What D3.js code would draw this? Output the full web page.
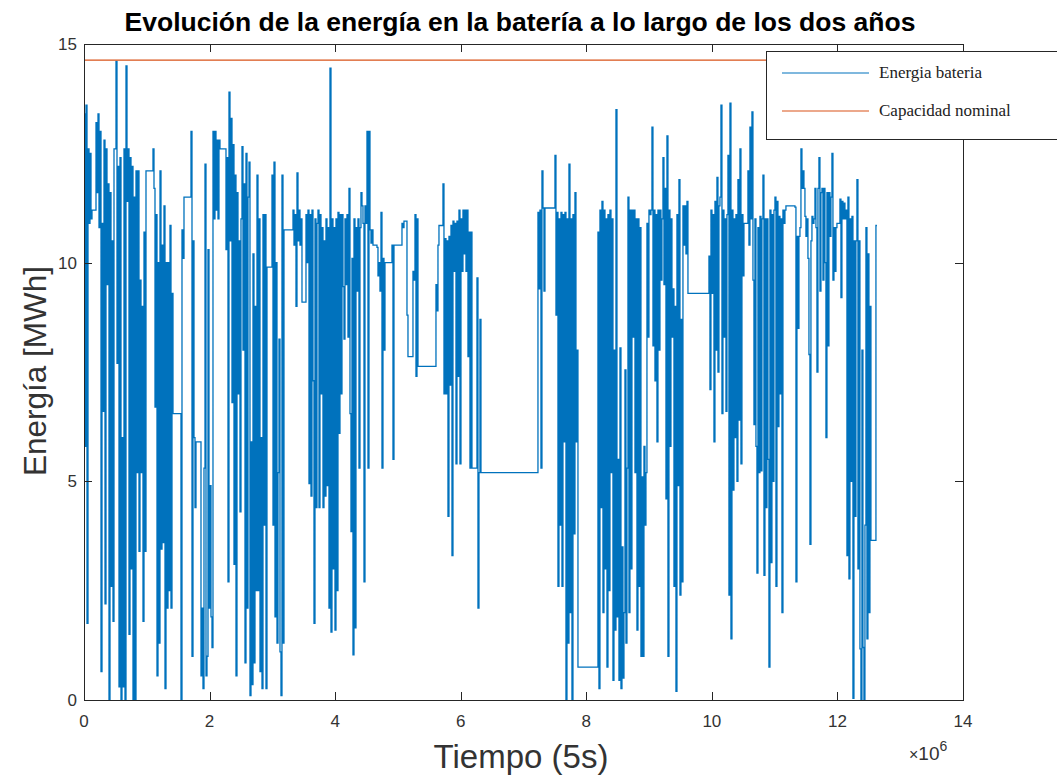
<!DOCTYPE html>
<html>
<head>
<meta charset="utf-8">
<script src="https://cdn.jsdelivr.net/npm/d3@7/dist/d3.min.js"></script>
<style>
  body { margin: 0; background: #fff; }
  svg { display: block; }
</style>
</head>
<body>
<svg id="chart" width="1057" height="776"></svg>
<script>
// Energía almacenada (MWh), una muestra cada pasoMuestreo intervalos de 5 s
const energiaBateria = [
  13.4,5.8,13.6,1.75,12.6,10.9,12.5,11.0,11.2,11.2,
  11.2,11.2,13.2,11.6,13.4,10.8,13.0,0.65,10.9,6.6,
  12.8,2.2,12.6,9.5,11.8,0,11.6,2.6,10.5,1.8,
  12.6,12.6,14.6,7.7,12.2,0.3,12.4,0,6.0,0.3,
  12.6,0,14.5,11.4,12.6,1.5,12.4,3.0,12.2,0,
  11.5,0,12.1,5.2,12.1,3.4,9.6,5.2,9.0,1.8,
  10.7,3.4,12.1,12.1,12.1,12.1,12.1,12.1,12.1,12.6,
  11.7,6.7,11.1,0.55,10.0,1.3,12.1,3.45,10.4,3.6,
  11.3,0.26,10.0,2.1,10.0,2.5,10.85,2.1,9.3,6.55,
  6.55,6.55,6.55,6.55,6.55,6.55,6.55,0,10.75,10.1,
  11.5,11.5,11.5,11.5,11.5,11.5,11.5,13.0,1.0,10.5,
  6.0,4.4,5.9,5.9,5.9,5.9,5.9,0.55,2.1,0.26,
  5.3,12.25,0.55,1.0,10.3,2.1,4.9,1.9,1.2,13.0,
  11.0,13.0,11.2,12.8,11.0,12.8,12.6,12.6,12.6,12.6,
  12.6,12.6,10.3,12.4,2.7,13.9,10.5,13.3,6.8,12.7,
  3.1,12.0,0.55,11.6,7.0,10.5,4.3,11.0,12.65,8.0,
  11.8,0.85,12.5,2.1,11.5,12.3,0.1,5.9,0.35,10.2,
  0.85,9.0,2.5,12.0,2.5,11.0,0.65,6.0,0.26,11.1,
  4.0,11.1,0.26,9.9,9.9,9.9,9.9,9.9,12.0,4.0,
  12.3,1.9,10.0,1.3,5.2,8.25,1.1,0.1,12.0,1.3,
  10.75,10.75,10.75,10.75,10.75,10.75,10.75,10.75,10.75,11.2,
  10.4,11.1,9.0,12.05,10.5,11.2,10.4,11.0,9.1,9.1,
  9.1,9.1,11.1,10.0,11.2,4.95,11.1,4.66,11.2,7.3,
  1.75,11.0,4.4,10.9,11.2,4.4,11.1,7.0,10.8,4.4,
  10.5,4.66,11.0,4.9,10.8,2.1,14.45,1.55,11.0,3.0,
  10.8,1.6,11.0,2.5,11.15,6.1,11.1,7.0,11.1,9.45,
  8.25,11.0,9.5,11.1,8.3,11.7,6.55,3.85,10.1,1.03,
  11.0,1.65,10.8,9.35,11.0,5.3,10.8,11.6,11.3,10.9,
  2.7,11.3,10.9,13.0,5.3,13.0,10.75,10.45,10.75,10.4,
  10.4,10.4,10.4,10.35,9.7,10.0,9.35,11.15,5.3,10.1,
  8.0,10.0,10.0,10.0,10.0,10.0,10.0,10.0,10.4,5.5,
  10.4,10.4,10.4,10.4,10.4,10.4,10.4,10.4,10.9,10.8,
  10.95,10.95,10.95,8.8,7.85,7.85,7.85,7.85,7.85,9.8,
  9.6,11.1,7.4,11.0,7.63,7.63,7.63,7.63,7.63,7.63,
  7.63,7.63,7.63,7.63,7.63,7.63,7.63,7.63,7.63,7.63,
  7.63,7.63,9.5,8.9,10.4,10.85,10.85,10.85,10.85,11.8,
  7.0,10.55,7.0,10.5,4.2,10.6,7.2,10.85,3.3,10.95,
  9.8,10.9,5.4,10.95,7.4,11.2,5.4,11.0,9.8,11.2,
  10.2,11.2,9.8,11.2,7.85,10.7,5.3,10.7,5.3,5.3,
  5.3,5.3,5.3,9.65,2.1,5.2,8.7,5.2,5.2,5.2,
  5.2,5.2,5.2,5.2,5.2,5.2,5.2,5.2,5.2,5.2,
  5.2,5.2,5.2,5.2,5.2,5.2,5.2,5.2,5.2,5.2,
  5.2,5.2,5.2,5.2,5.2,5.2,5.2,5.2,5.2,5.2,
  5.2,5.2,5.2,5.2,5.2,5.2,5.2,5.2,5.2,5.2,
  5.2,5.2,5.2,5.2,5.2,5.2,5.2,5.2,5.2,5.2,
  5.2,5.2,5.2,5.2,
  11.15,9.4,11.2,5.3,12.1,11.25,9.35,11.25,11.25,11.25,
  11.25,11.25,11.25,11.25,11.25,11.25,11.25,12.45,8.8,11.15,
  2.6,11.0,4.0,11.15,2.6,11.1,5.9,11.15,0,11.0,
  1.3,12.25,2.0,11.0,0,11.1,3.8,11.6,5.9,8.0,
  0.75,0.75,0.75,0.75,0.75,0.75,0.75,0.75,0.75,0.75,
  0.75,0.75,0.75,0.75,0.75,0.75,0.75,0.75,0.75,0.75,
  10.7,0.26,11.2,4.4,11.4,2.0,11.2,3.0,11.0,0.75,
  11.1,2.5,11.2,5.2,11.0,0.45,8.0,1.6,13.5,1.9,
  5.5,0.45,8.05,0.26,3.5,0.5,2.0,7.55,1.3,5.3,
  11.5,2.0,11.2,3.0,11.2,8.3,11.2,5.2,11.0,1.6,
  11.0,2.6,10.8,1.0,5.1,1.0,5.8,4.0,5.2,10.9,
  8.3,11.2,11.1,11.2,13.1,8.1,11.2,7.3,11.1,5.9,
  11.2,8.0,11.2,9.6,11.0,12.4,9.5,11.7,4.6,12.9,
  1.0,11.2,5.8,11.0,8.3,9.4,2.6,9.0,0.2,11.1,
  4.9,11.9,2.4,8.7,2.7,11.3,10.4,11.3,10.2,11.4,
  9.3,9.3,9.3,9.3,9.3,9.3,9.3,9.3,9.3,9.3,
  9.3,9.3,9.3,9.3,9.3,9.3,9.3,9.3,9.3,9.3,9.3,
  10.15,7.1,11.2,9.3,11.1,5.9,11.4,8.0,11.95,7.5,
  11.3,11.5,13.6,6.55,11.2,8.3,11.0,6.6,11.1,12.45,
  2.4,13.65,1.4,11.2,4.8,11.0,6.0,11.1,5.0,11.9,
  6.4,12.6,5.4,11.1,9.7,10.9,10.9,10.9,10.9,12.1,
  10.4,13.1,11.0,13.45,9.6,6.3,11.0,5.8,2.9,10.8,
  5.2,11.06,5.24,11.0,12.0,2.85,11.0,4.4,11.0,5.5,
  0.75,11.2,3.14,11.1,5.0,11.2,11.5,2.6,11.4,6.25,
  11.06,7.0,11.0,2.0,11.2,10.9,11.2,11.3,11.3,11.3,
  11.3,11.3,11.3,11.3,11.3,11.3,11.27,2.7,10.6,8.5,
  10.6,10.8,12.6,11.7,12.1,11.7,11.06,10.6,11.0,10.1,
  7.9,3.56,10.5,11.06,10.9,11.0,11.7,10.8,7.5,11.7,
  12.4,9.35,11.6,11.7,9.6,11.7,10.0,6.0,11.6,8.1,
  11.6,10.6,11.5,12.5,9.6,10.8,9.8,10.8,10.9,10.9,
  10.9,11.45,9.2,11.4,11.0,11.36,11.0,11.2,3.3,11.5,
  2.77,11.0,5.0,11.06,0.04,10.5,4.2,10.5,11.9,3.0,
  10.5,1.17,0,8.0,1.2,0,4.0,10.8,1.4,10.2,
  2.0,9.0,3.65,3.65,3.65,3.65,3.65,10.85,10.85
];
const pasoMuestreo = 15926;            // intervalos de 5 s entre muestras dibujadas
const capacidadNominal = 14.63;        // MWh
const ticksTiempo = [0, 2e6, 4e6, 6e6, 8e6, 10e6, 12e6, 14e6];
const ticksEnergia = [0, 5, 10, 15];
const etiquetasLeyenda = ["Energia bateria", "Capacidad nominal"];
const coloresSeries = ["#0072BD", "#D95319"];

const svg = d3.select("#chart");
const margen = { left: 84, right: 963, top: 44, bottom: 700 };
const ejeColor = "#262626";
const fuente = "'Liberation Sans', Arial, Helvetica, sans-serif";

const x = d3.scaleLinear().domain([0, 14e6]).range([margen.left, margen.right]);
const y = d3.scaleLinear().domain([0, 15]).range([margen.bottom, margen.top]);

// Serie de energía como escalones
const linea = d3.line()
  .x((d, i) => x(i * pasoMuestreo))
  .y(d => y(d))
  .curve(d3.curveStepAfter);

svg.append("path")
  .datum(energiaBateria)
  .attr("d", linea)
  .attr("fill", "none")
  .attr("stroke", coloresSeries[0])
  .attr("stroke-width", 1.3);

// Capacidad nominal a lo largo de todo el eje
svg.append("line")
  .attr("x1", x(0)).attr("x2", x(14e6))
  .attr("y1", y(capacidadNominal)).attr("y2", y(capacidadNominal))
  .attr("stroke", coloresSeries[1])
  .attr("stroke-width", 1.2);

// Ejes con marcas hacia dentro en los cuatro lados
const tick = 8;
const g = svg.append("g").attr("stroke", ejeColor).attr("fill", "none");
g.append("rect")
  .attr("x", margen.left + 0.5).attr("y", margen.top + 0.5)
  .attr("width", margen.right - margen.left).attr("height", margen.bottom - margen.top)
  .attr("stroke-width", 1);

ticksTiempo.forEach(t => {
  const px = Math.round(x(t)) + 0.5;
  g.append("line").attr("x1", px).attr("x2", px).attr("y1", margen.bottom).attr("y2", margen.bottom - tick);
  g.append("line").attr("x1", px).attr("x2", px).attr("y1", margen.top).attr("y2", margen.top + tick);
});
ticksEnergia.forEach(e => {
  const py = Math.round(y(e)) + 0.5;
  g.append("line").attr("y1", py).attr("y2", py).attr("x1", margen.left).attr("x2", margen.left + tick);
  g.append("line").attr("y1", py).attr("y2", py).attr("x1", margen.right).attr("x2", margen.right - tick);
});

const etiquetas = svg.append("g")
  .attr("font-family", fuente)
  .attr("fill", "#333");

etiquetas.selectAll("text.tx")
  .data(ticksTiempo).join("text")
  .attr("class", "tx")
  .attr("x", d => x(d))
  .attr("y", 727)
  .attr("text-anchor", "middle")
  .attr("font-size", 17)
  .text(d => d / 1e6);

etiquetas.selectAll("text.ty")
  .data(ticksEnergia).join("text")
  .attr("class", "ty")
  .attr("x", 77)
  .attr("y", d => y(d) + 6)
  .attr("text-anchor", "end")
  .attr("font-size", 17)
  .text(d => d);

// Multiplicador del eje de tiempo
const mult = etiquetas.append("text").attr("x", 909).attr("y", 760).attr("font-size", 19);
mult.append("tspan").attr("font-size", 16).text("×");
mult.append("tspan").text("10");
mult.append("tspan").attr("font-size", 14).attr("dy", -9).text("6");

// Títulos
svg.append("text")
  .attr("x", 520).attr("y", 31)
  .attr("text-anchor", "middle")
  .attr("font-family", fuente)
  .attr("font-weight", "bold")
  .attr("font-size", 26.5)
  .attr("fill", "#000")
  .text("Evolución de la energía en la batería a lo largo de los dos años");

svg.append("text")
  .attr("x", 521).attr("y", 768)
  .attr("text-anchor", "middle")
  .attr("font-family", fuente)
  .attr("font-size", 33)
  .attr("fill", "#333")
  .text("Tiempo (5s)");

svg.append("text")
  .attr("transform", "translate(46,371) rotate(-90)")
  .attr("text-anchor", "middle")
  .attr("font-family", fuente)
  .attr("font-size", 31.5)
  .attr("fill", "#333")
  .text("Energía [MWh]");

// Leyenda
const ley = svg.append("g");
ley.append("rect")
  .attr("x", 766.5).attr("y", 51.5)
  .attr("width", 320).attr("height", 88)
  .attr("fill", "#fff").attr("stroke", ejeColor).attr("stroke-width", 1);
etiquetasLeyenda.forEach((txt, i) => {
  const yy = 73 + i * 38;
  ley.append("line")
    .attr("x1", 782).attr("x2", 869).attr("y1", yy).attr("y2", yy)
    .attr("stroke", coloresSeries[i]).attr("stroke-width", 1.2);
  ley.append("text")
    .attr("x", 879).attr("y", yy + 5)
    .attr("font-family", "'Liberation Serif', 'Times New Roman', serif")
    .attr("font-size", 17)
    .attr("fill", "#222")
    .text(txt);
});
</script>
</body>
</html>
